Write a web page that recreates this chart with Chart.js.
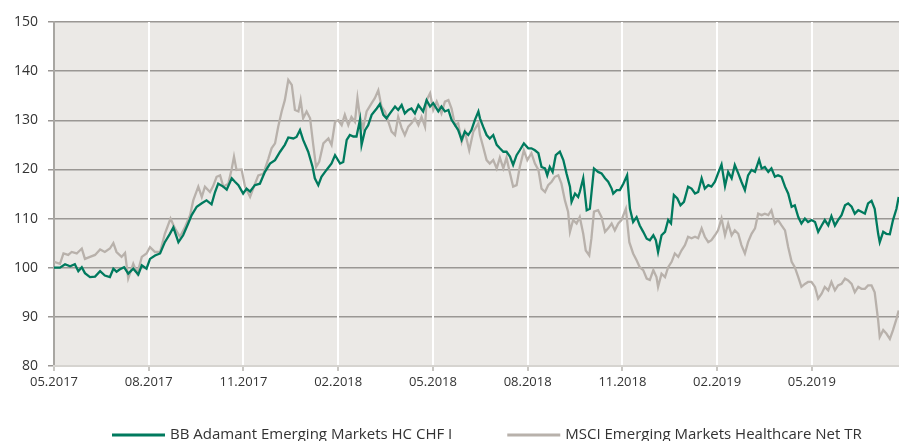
<!DOCTYPE html>
<html>
<head>
<meta charset="utf-8">
<script src="https://cdn.jsdelivr.net/npm/chart.js@4.4.1/dist/chart.umd.min.js"></script>
<style>
    html, body { margin: 0; padding: 0; background: #fff; }
    #wrap { width: 899px; height: 441px; }
</style>
</head>
<body>
<div id="wrap"><canvas id="chart" width="899" height="441"></canvas></div>
<script>
// x = months since 05.2017
const quarterTicks = [0, 3, 6, 9, 12, 15, 18, 21, 24];
const quarterLabels = ['05.2017', '08.2017', '11.2017', '02.2018', '05.2018', '08.2018', '11.2018', '02.2019', '05.2019'];
const lastMonth = 26.76;

const fundLabel = 'BB Adamant Emerging Markets HC CHF I';
const indexLabel = 'MSCI Emerging Markets Healthcare Net TR';

const fundMonths = [0,0.19,0.35,0.51,0.66,0.77,0.88,0.98,1.14,1.30,1.46,1.61,1.77,1.88,1.98,2.09,2.22,2.35,2.51,2.67,2.78,2.93,3.04,3.20,3.36,3.51,3.67,3.78,3.94,4.09,4.25,4.36,4.52,4.68,4.83,4.99,5.10,5.20,5.36,5.47,5.63,5.73,5.84,5.99,6.10,6.21,6.36,6.52,
    6.68,6.84,7.00,7.16,7.31,7.42,7.58,7.68,7.79,7.89,8.05,8.19,8.26,8.37,8.47,8.63,8.79,8.90,9.06,9.16,9.27,9.37,9.48,9.58,9.69,9.74,9.85,9.95,10.06,10.22,10.32,10.43,10.53,10.64,10.80,10.90,11.01,11.11,11.22,11.32,11.43,11.54,11.69,11.80,11.91,12.01,12.17,12.27,12.38,12.49,12.59,12.70,12.80,12.91,13.01,13.12,13.22,13.33,13.44,
    13.49,13.59,13.70,13.80,13.91,14.02,14.12,14.23,14.33,14.44,14.54,14.65,14.75,14.88,15.02,15.12,15.23,15.34,15.44,15.55,15.62,15.70,15.79,15.89,16.02,16.13,16.23,16.34,16.39,16.50,16.60,16.65,16.76,16.87,16.97,17.10,17.23,17.34,17.45,17.55,17.66,17.71,17.82,17.92,18.03,18.15,18.24,18.34,18.45,18.55,18.66,18.77,18.87,18.98,19.06,19.13,19.24,19.35,19.45,19.54,19.63,19.74,19.84,19.95,20.08,
    20.19,20.30,20.40,20.51,20.61,20.72,20.82,20.93,21.03,21.14,21.25,21.35,21.46,21.56,21.67,21.77,21.88,21.98,22.09,22.20,22.33,22.41,22.51,22.62,22.72,22.83,22.93,23.04,23.15,23.25,23.36,23.46,23.57,23.67,23.78,23.88,23.99,24.10,24.20,24.31,24.41,24.52,24.62,24.73,24.83,24.94,25.05,25.15,25.26,25.36,25.47,25.57,25.68,25.78,25.89,25.99,26.10,26.15,26.26,26.36,26.47,26.57,26.68,26.75];
const fundValues = [100,100,100.7,100.3,100.7,99.3,100.1,98.9,98.1,98.2,99.3,98.4,98.1,99.8,99.2,99.7,100.1,98.8,99.8,98.6,100.5,99.8,101.8,102.5,102.9,105.2,106.9,108.2,105.2,106.6,109,110.7,112.4,113.1,113.7,112.9,115.4,117.1,116.5,115.9,118.2,117.5,116.8,115.1,116.1,115.5,116.8,117.1,
    119.5,121.2,121.9,123.6,125,126.5,126.3,126.6,128,126,123.6,120.5,118.2,116.8,118.5,119.9,121.2,122.9,121.2,121.5,126,127,126.7,126.7,130.1,125,128,129,131.1,132.4,133.3,131.1,130.4,131.4,132.8,132.1,133.1,131.4,132.1,132.4,131.4,133.1,131.8,134.1,132.8,133.5,131.8,132.8,131.8,132.1,130.1,129,128,126,127.7,127,128,130.1,131.8,
    130.4,128.7,127,126.3,127,125,124.3,123.6,123.6,122.6,120.9,122.9,123.9,125.3,124.3,124.3,123.9,123.3,120.5,120.2,118.8,120.5,119.5,122.9,123.6,121.9,119.2,116.5,113.4,115.1,114.4,115.4,118.2,111.7,112,120.2,119.5,119.2,118.2,117.5,116.1,115.1,115.8,115.8,117.1,118.8,112,109.3,110.3,108.6,107.3,105.9,105.6,106.6,105.6,103.2,106.6,107.3,109.7,109,114.8,114.1,112.7,113.4,116.5,
    116.1,115.1,115.4,118.2,116.1,116.8,116.5,117.5,119.2,121,116.6,119.5,118.2,120.9,119.2,117.5,115.8,118.8,119.9,119.5,122,120.2,120.5,119.5,120.2,118.5,118.8,118.5,116.5,115.1,112.4,112.7,110.3,109,110,109.3,109.7,109.3,107.3,108.6,109.7,108.6,110.5,108.6,109.7,110.7,112.7,113.1,112.4,111,111.7,111.4,111,113.1,113.6,112,106.9,105.2,107.3,106.9,106.8,109.7,112,114.4];

const indexMonths = [0,0.19,0.30,0.45,0.56,0.72,0.88,0.98,1.14,1.30,1.46,1.61,1.77,1.88,1.98,2.14,2.25,2.35,2.51,2.64,2.78,2.93,3.04,3.20,3.36,3.51,3.69,3.83,3.99,4.15,4.31,4.41,4.57,4.68,4.78,4.94,5.04,5.15,5.26,5.36,5.52,5.63,5.70,5.78,5.94,6.05,6.21,6.33,6.47,6.63,
    6.79,6.89,7.00,7.10,7.21,7.31,7.42,7.53,7.63,7.74,7.81,7.89,8.00,8.11,8.21,8.30,8.40,8.53,8.69,8.79,8.90,9.00,9.11,9.21,9.32,9.42,9.53,9.61,9.69,9.79,9.90,10.06,10.16,10.27,10.37,10.48,10.59,10.69,10.80,10.90,11.01,11.11,11.22,11.32,11.43,11.54,11.64,11.75,11.80,11.91,12.01,12.12,12.27,12.38,12.49,12.59,12.70,12.80,12.91,13.01,13.15,13.28,13.44,
    13.49,13.59,13.70,13.80,13.91,14.02,14.12,14.23,14.33,14.44,14.54,14.65,14.75,14.88,14.99,15.12,15.23,15.34,15.44,15.55,15.65,15.76,15.86,15.97,16.07,16.18,16.28,16.34,16.44,16.55,16.65,16.76,16.84,16.95,17.02,17.10,17.23,17.34,17.45,17.55,17.66,17.76,17.87,17.97,18.11,18.22,18.34,18.45,18.55,18.66,18.77,18.87,18.98,19.08,19.13,19.24,19.35,19.45,19.56,19.66,19.77,19.87,19.98,20.08,
    20.19,20.30,20.40,20.51,20.61,20.72,20.82,20.93,21.03,21.14,21.25,21.35,21.46,21.56,21.67,21.77,21.88,21.98,22.09,22.20,22.30,22.41,22.51,22.62,22.72,22.83,22.93,23.04,23.15,23.25,23.36,23.46,23.57,23.67,23.78,23.88,23.99,24.10,24.20,24.31,24.41,24.52,24.62,24.73,24.83,24.94,25.05,25.15,25.26,25.36,25.47,25.57,25.68,25.78,25.89,25.99,26.10,26.15,26.26,26.36,26.47,26.57,26.68,26.75];
const indexValues = [101.2,100.8,102.9,102.6,103.2,102.9,103.9,101.8,102.2,102.6,103.7,103.2,103.9,105,103.2,102.2,103,97.8,100.8,98.8,102.2,102.9,104.2,103.2,103.2,106.9,110,108,106.3,108.3,110.7,113.7,116.5,114.4,116.5,115.4,116.6,118.5,118.8,116.5,117.1,120.2,122.6,119.9,120,116.5,114.4,116.5,118.8,119.1,
    122.2,124.3,125.3,128.7,131.8,134.1,138.2,137.2,132.1,131.8,134.1,130.4,131.8,130.4,125,120.5,121.6,125.3,126.3,125,129.7,130,129,131.1,129,130.7,129.7,134.5,130.7,128.4,131.8,133.5,134.5,136.1,132.8,131.8,129.7,127.7,127,130.7,128.4,127,128.7,129.4,130.4,129,130.7,128.7,134.1,135.5,132.1,133.8,131.4,133.8,134.1,132.4,129,129.4,125.6,127.7,123.9,127.7,129.4,
    127,124.6,121.9,121.2,121.9,120.2,122.4,120.2,122.4,119.2,116.5,116.8,120.5,123.9,121.9,123.3,121.2,119.9,116.1,115.4,116.8,117.5,118.5,118.8,117.1,113.7,111.4,107.3,109.7,109,110.3,106.9,103.5,102.5,106,111.4,111.7,110.3,107.3,108,109,107.6,109,109.7,112,105.2,102.9,101.5,100.1,99.5,97.8,97.5,99.5,98.1,96.1,98.8,98.1,100.1,101.2,102.9,102.2,103.5,104.6,106.3,
    106,106.3,106,108,106.3,105.2,105.6,106.6,107.6,110,106.6,109,106.6,107.6,106.9,104.6,102.9,105.2,106.9,108,111,110.7,111,110.7,111.7,109,109.7,108.6,107.6,104.2,101.2,100.1,98.1,96.1,96.7,97.1,97.1,96.1,93.7,94.7,96.1,95.4,97.1,95.4,96.4,96.7,97.8,97.4,96.7,95,96.1,95.7,95.7,96.4,96.4,95,89.3,85.9,87.3,86.6,85.5,87.3,89.6,91.3];

const fundColor = '#007a5e';
const indexColor = '#b8b1ab';

const toPoints = (xs, ys) => xs.map((x, i) => ({ x: x, y: ys[i] }));

// grey plot background
const plotBackground = {
    id: 'plotBackground',
    beforeDraw(chart) {
        const { ctx, chartArea: a } = chart;
        ctx.save();
        ctx.fillStyle = '#ebe9e6';
        ctx.fillRect(a.left, a.top, a.right - a.left, a.bottom - a.top);
        ctx.restore();
    }
};

// legend drawn under the axis with wide gaps between items
const bottomLegend = {
    id: 'bottomLegend',
    afterDraw(chart) {
        const ctx = chart.ctx;
        const y = 435;
        let x = 112;
        ctx.save();
        ctx.font = '15px "Open Sans", sans-serif';
        ctx.textBaseline = 'middle';
        ctx.textAlign = 'left';
        chart.data.datasets.forEach(ds => {
            ctx.strokeStyle = ds.borderColor;
            ctx.lineWidth = 3;
            ctx.beginPath();
            ctx.moveTo(x, y);
            ctx.lineTo(x + 53, y);
            ctx.stroke();
            ctx.fillStyle = '#333';
            ctx.fillText(ds.label, x + 58, y);
            x += 58 + ctx.measureText(ds.label).width + 55;
        });
        ctx.restore();
    }
};

new Chart(document.getElementById('chart'), {
    type: 'line',
    data: {
        datasets: [
            {
                label: fundLabel,
                data: toPoints(fundMonths, fundValues),
                borderColor: fundColor,
                borderWidth: 2.3,
                pointRadius: 0,
                tension: 0
            },
            {
                label: indexLabel,
                data: toPoints(indexMonths, indexValues),
                borderColor: indexColor,
                borderWidth: 2.3,
                pointRadius: 0,
                tension: 0
            }
        ]
    },
    options: {
        responsive: false,
        animation: false,
        layout: { padding: { top: 22, right: 0, bottom: 35, left: 0 } },
        plugins: {
            legend: { display: false },
            tooltip: { enabled: false }
        },
        scales: {
            y: {
                min: 80,
                max: 150,
                afterFit: s => { s.width = 54; },
                ticks: {
                    stepSize: 10,
                    padding: 10,
                    color: '#333',
                    font: { family: '"Open Sans", sans-serif', size: 14 }
                },
                grid: { color: '#9a9794', lineWidth: 1.5, tickLength: 6, z: -2 },
                border: { color: '#a8a6a2', width: 2 }
            },
            x: {
                type: 'linear',
                min: 0,
                max: lastMonth,
                afterFit: s => { s.height = 40; },
                afterBuildTicks: s => { s.ticks = quarterTicks.map(v => ({ value: v })); },
                ticks: {
                    autoSkip: false,
                    maxRotation: 0,
                    padding: 3,
                    color: '#333',
                    font: { family: '"Open Sans", sans-serif', size: 13 },
                    callback: v => quarterLabels[quarterTicks.indexOf(v)]
                },
                grid: { color: '#ffffff', lineWidth: 2, tickColor: '#c9c7c3', tickLength: 5, z: -1 },
                border: { color: '#d6d4d0', width: 2 }
            }
        }
    },
    plugins: [plotBackground, bottomLegend]
});
</script>
</body>
</html>
